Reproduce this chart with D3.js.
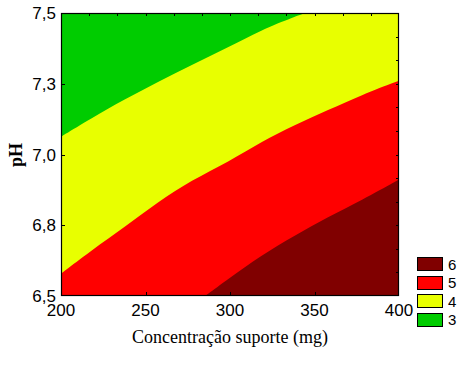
<!DOCTYPE html>
<html>
<head>
<meta charset="utf-8">
<script src="https://cdn.jsdelivr.net/npm/d3@7"></script>
<style>
  html, body { margin: 0; padding: 0; background: #fff; }
  svg { display: block; }
</style>
</head>
<body>
<svg id="chart" width="474" height="368"></svg>
<script>
// ---- data ----
const xTicks = [200, 250, 300, 350, 400];
const xTickLabels = ["200", "250", "300", "350", "400"];
const yTicks = [6.5, 6.75, 7.0, 7.25, 7.5];
const yTickLabels = ["6,5", "6,8", "7,0", "7,3", "7,5"];

const levels = [6, 5, 4, 3];
const levelColors = ["#800000", "#ff0000", "#e8ff00", "#00cc00"];

// boundary between level 3 (green) and 4 (yellow)
const boundary34X = [200, 217.9, 237.7, 257.4, 277.1, 298.8, 318.5, 338.3, 345.1];
const boundary34Y = [7.063, 7.128, 7.195, 7.257, 7.316, 7.378, 7.440, 7.487, 7.5];
// boundary between level 4 (yellow) and 5 (red)
const boundary45X = [200, 217.9, 237.7, 257.4, 277.1, 299.4, 318.5, 338.3, 358.0, 377.7, 400];
const boundary45Y = [6.579, 6.661, 6.744, 6.832, 6.909, 6.975, 7.045, 7.104, 7.157, 7.210, 7.261];
// boundary between level 5 (red) and 6 (dark red)
const boundary56X = [285.2, 298.8, 318.5, 338.3, 358.0, 377.7, 400];
const boundary56Y = [6.5, 6.560, 6.644, 6.714, 6.779, 6.838, 6.912];

// ---- layout ----
const svg = d3.select("#chart");
const pL = 61, pR = 399, pT = 13, pB = 296;

const x = d3.scaleLinear().domain([200, 400]).range([pL, pR]);
const y = d3.scaleLinear().domain([6.5, 7.5]).range([pB, pT]);

svg.append("defs").append("clipPath").attr("id", "plotclip")
  .append("rect").attr("x", pL).attr("y", pT)
  .attr("width", pR - pL).attr("height", pB - pT);

const g = svg.append("g").attr("clip-path", "url(#plotclip)");

// background: level 4 (yellow)
g.append("rect").attr("x", pL).attr("y", pT)
  .attr("width", pR - pL).attr("height", pB - pT)
  .attr("fill", levelColors[2]);

const toPts = (xs, ys) => xs.map((v, i) => [v, ys[i]]);
const curve = d3.curveBasis;

// green (level 3): above boundary 3/4
g.append("path")
  .datum(toPts(boundary34X, boundary34Y))
  .attr("fill", levelColors[3])
  .attr("d", d3.area().curve(curve)
    .x(d => x(d[0])).y0(y(7.5) - 2).y1(d => y(d[1])));

// red (level 5): below boundary 4/5
g.append("path")
  .datum(toPts(boundary45X, boundary45Y))
  .attr("fill", levelColors[1])
  .attr("d", d3.area().curve(curve)
    .x(d => x(d[0])).y0(y(6.5) + 2).y1(d => y(d[1])));

// dark red (level 6): below boundary 5/6
g.append("path")
  .datum(toPts(boundary56X, boundary56Y))
  .attr("fill", levelColors[0])
  .attr("d", d3.area().curve(curve)
    .x(d => x(d[0])).y0(y(6.5) + 2).y1(d => y(d[1])));

// ---- frame and ticks ----
svg.append("rect").attr("x", pL + 0.5).attr("y", pT + 0.5)
  .attr("width", pR - pL - 1).attr("height", pB - pT - 1)
  .attr("fill", "none").attr("stroke", "#000").attr("stroke-width", 1.2);

const tickG = svg.append("g").attr("stroke", "#000").attr("stroke-width", 1);
// bottom ticks (inward)
xTicks.slice(1, -1).forEach(v => {
  tickG.append("line").attr("x1", Math.round(x(v)) + 0.5).attr("x2", Math.round(x(v)) + 0.5)
    .attr("y1", pB).attr("y2", pB - 4);
});
// left ticks (inward)
yTicks.slice(1, -1).forEach(v => {
  tickG.append("line").attr("y1", Math.round(y(v)) + 0.5).attr("y2", Math.round(y(v)) + 0.5)
    .attr("x1", pL).attr("x2", pL + 4);
});
// top minor ticks
d3.range(1, 12).map(k => 200 + k * 200 / 12).forEach(v => {
  tickG.append("line").attr("x1", Math.round(x(v)) + 0.5).attr("x2", Math.round(x(v)) + 0.5)
    .attr("y1", pT).attr("y2", pT + 3);
});
// right minor ticks
d3.range(1, 12).map(k => 6.5 + k / 12).forEach(v => {
  tickG.append("line").attr("y1", Math.round(y(v)) + 0.5).attr("y2", Math.round(y(v)) + 0.5)
    .attr("x1", pR).attr("x2", pR - 3);
});

// tick labels
const sans = "'Liberation Sans', Arial, sans-serif";
const serif = "'Liberation Serif', 'Times New Roman', serif";
svg.append("g").selectAll("text").data(xTicks).join("text")
  .attr("x", d => x(d))
  .attr("y", 316)
  .attr("text-anchor", "middle")
  .attr("font-family", sans).attr("font-size", 17)
  .text((d, i) => xTickLabels[i]);

svg.append("g").selectAll("text").data(yTicks).join("text")
  .attr("x", 56)
  .attr("y", d => y(d) + 6)
  .attr("text-anchor", "end")
  .attr("font-family", sans).attr("font-size", 17)
  .text((d, i) => yTickLabels[i]);

// axis titles
svg.append("text")
  .attr("x", 230).attr("y", 343)
  .attr("text-anchor", "middle")
  .attr("font-family", serif).attr("font-size", 18)
  .text("Concentração suporte (mg)");

svg.append("text")
  .attr("transform", "translate(22,155) rotate(-90)")
  .attr("text-anchor", "middle")
  .attr("font-family", serif).attr("font-size", 18).attr("font-weight", "bold")
  .text("pH");

// legend
const leg = svg.append("g");
levels.forEach((lv, i) => {
  const yy = 257 + i * 18.5;
  leg.append("rect").attr("x", 417.5).attr("y", Math.round(yy) + 0.5)
    .attr("width", 25).attr("height", 13)
    .attr("fill", levelColors[i]).attr("stroke", "#000").attr("stroke-width", 1);
  leg.append("text").attr("x", 448).attr("y", yy + 12.5)
    .attr("font-family", sans).attr("font-size", 15)
    .text(lv);
});
</script>
</body>
</html>
